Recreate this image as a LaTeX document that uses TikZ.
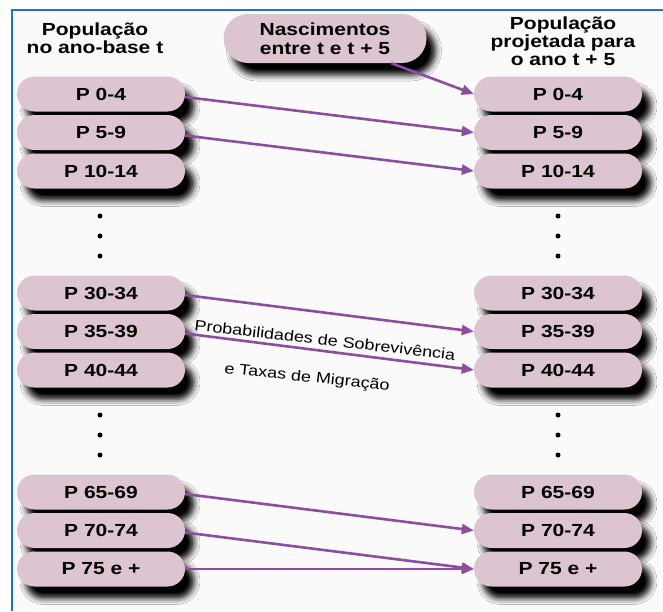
\documentclass[tikz,border=0pt]{standalone}
\usepackage{fontspec}
\setmainfont{Liberation Sans}
\usetikzlibrary{arrows.meta,positioning,shapes.misc,shadows.blur}
\definecolor{popPink}{HTML}{DCC5D0}
\definecolor{popPurple}{HTML}{8C4E9F}
\definecolor{popBlue}{HTML}{1E74C6}
\definecolor{popBack}{HTML}{FAFAFB}
\newcommand{\wtext}[1]{\scalebox{1.2}[1]{#1}}

\begin{document}
\begin{tikzpicture}[x=1pt, y=-1pt, >={Triangle[length=12pt,width=10pt]},
  age/.style={rounded rectangle,fill=popPink,minimum width=168pt,minimum height=35pt,inner sep=0pt,
    font=\fontsize{17.5}{19}\selectfont\bfseries,
    blur shadow={shadow xshift=9pt,shadow yshift=-12pt,shadow blur radius=6pt,shadow opacity=100}},
  hdr/.style={align=center,inner sep=0pt,font=\fontsize{17.5}{18}\selectfont\bfseries},
  flow/.style={popPurple,line width=2.6pt,->},
  note/.style={inner sep=0pt,font=\fontsize{15}{16}\selectfont},
  dot/.style={circle,fill=black,inner sep=0pt,minimum size=5pt}]
  \useasboundingbox (0,0) rectangle (663,611);
  \fill[popBack] (12,10) rectangle (663,611);
  \draw[popBlue,line width=2.5pt] (12,611) -- (12,10) -- (663,10);
% --- headers ---
  \node[hdr] (hbase) at (95,38) {\wtext{População}\\\wtext{no ano-base t}};
  \node[hdr] (hproj) at (563,41) {\wtext{População}\\\wtext{projetada para}\\\wtext{o ano t + 5}};
  \node[age,minimum width=203pt,minimum height=49pt,align=center] (nasc) at (325,38.5)
    {\wtext{Nascimentos}\\\wtext{entre t e t + 5}};
% --- base year ---
  \node[age] (l0) at (101,94) {\wtext{P 0-4}};
  \node[age] (l5) at (101,132.5) {\wtext{P 5-9}};
  \node[age] (l10) at (101,171) {\wtext{P 10-14}};
  \node[age] (l30) at (101,293) {\wtext{P 30-34}};
  \node[age] (l35) at (101,331.5) {\wtext{P 35-39}};
  \node[age] (l40) at (101,370) {\wtext{P 40-44}};
  \node[age] (l65) at (101,492) {\wtext{P 65-69}};
  \node[age] (l70) at (101,530.5) {\wtext{P 70-74}};
  \node[age] (l75) at (101,569) {\wtext{P 75 e +}};
% --- projected year ---
  \node[age] (r0) at (558,94) {\wtext{P 0-4}};
  \node[age] (r5) at (558,132.5) {\wtext{P 5-9}};
  \node[age] (r10) at (558,171) {\wtext{P 10-14}};
  \node[age] (r30) at (558,293) {\wtext{P 30-34}};
  \node[age] (r35) at (558,331.5) {\wtext{P 35-39}};
  \node[age] (r40) at (558,370) {\wtext{P 40-44}};
  \node[age] (r65) at (558,492) {\wtext{P 65-69}};
  \node[age] (r70) at (558,530.5) {\wtext{P 70-74}};
  \node[age] (r75) at (558,569) {\wtext{P 75 e +}};
% --- elided groups ---
  \node[dot] (ld1) at (100,216) {}; \node[dot] (rd1) at (558,216) {};
  \node[dot] (ld2) at (100,236) {}; \node[dot] (rd2) at (558,236) {};
  \node[dot] (ld3) at (100,256) {}; \node[dot] (rd3) at (558,256) {};
  \node[dot] (ld4) at (100,415) {}; \node[dot] (rd4) at (558,415) {};
  \node[dot] (ld5) at (100,435) {}; \node[dot] (rd5) at (558,435) {};
  \node[dot] (ld6) at (100,455) {}; \node[dot] (rd6) at (558,455) {};
% --- ageing arrows ---
  \draw[flow] (nasc) -- (r0.west);
  \draw[flow] ([yshift=-3pt]l0.east) -- (r5.west);
  \draw[flow] ([yshift=-3pt]l5.east) -- (r10.west);
  \draw[flow] ([yshift=-2pt]l30.east) -- (r35.west);
  \draw[flow] ([yshift=-2pt]l35.east) -- (r40.west);
  \draw[flow] ([yshift=-2pt]l65.east) -- (r70.west);
  \draw[flow] ([yshift=-2pt]l70.east) -- (r75.west);
  \draw[flow] (l75.east) -- (r75.west);
  \node[note,rotate=-6.5] (surv) at (325,340) {\wtext{Probabilidades de Sobrevivência}};
  \node[note,rotate=-6] (migr) at (307,378) {\wtext{e Taxas de Migração}};
\end{tikzpicture}
\end{document}
